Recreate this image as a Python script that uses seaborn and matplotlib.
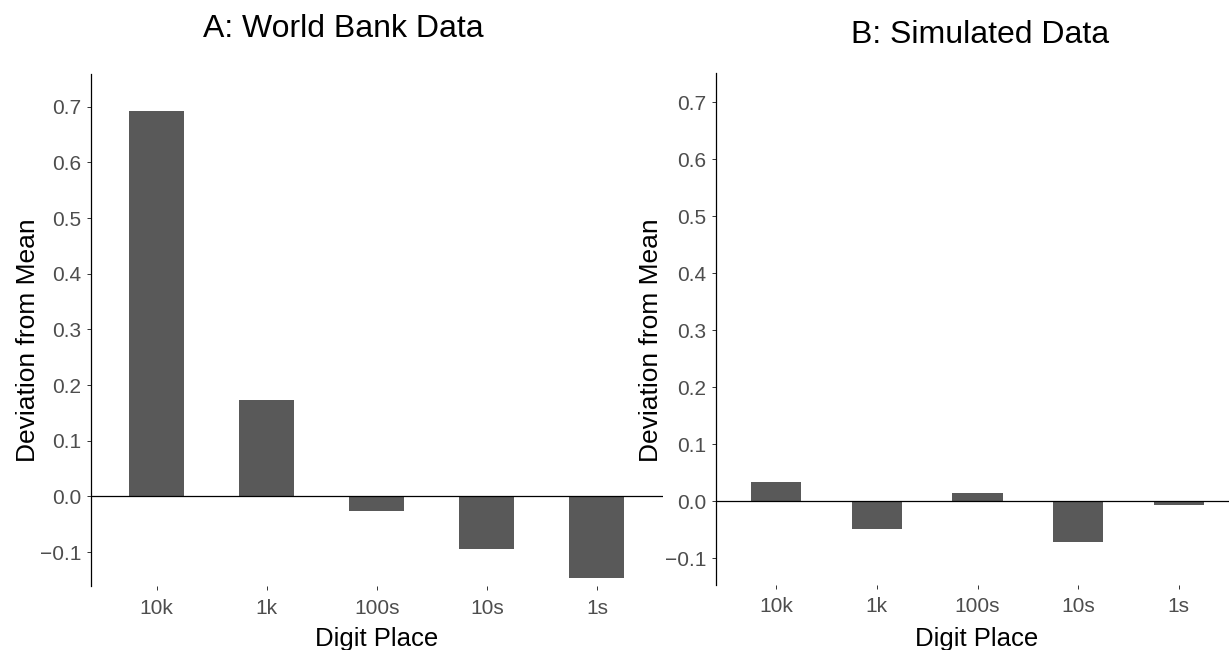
import matplotlib
matplotlib.use("Agg")
import matplotlib.pyplot as plt
import seaborn as sns
import pandas as pd
from matplotlib.ticker import FuncFormatter

# Digit places and deviation of each place from the mean
digit_places = ["10k", "1k", "100s", "10s", "1s"]
world_bank_dev = [0.692, 0.174, -0.027, -0.095, -0.147]
simulated_dev = [0.033, -0.048, 0.014, -0.071, -0.0065]

yticks = [-0.1, 0.0, 0.1, 0.2, 0.3, 0.4, 0.5, 0.6, 0.7]

sns.set_theme(style="white")
plt.rcParams["font.family"] = ["Liberation Sans", "DejaVu Sans"]

W, H = 1229, 650
fig = plt.figure(figsize=(W / 100, H / 100), dpi=100)
fig.patch.set_facecolor("white")

BAR = "#595959"
TICK_TXT = "#4D4D4D"


def fmt_tick(v, _pos):
    s = f"{abs(v):.1f}"
    return ("\u2212" + s) if v < -1e-9 else s


def px_axes(x0, y0, x1, y1):
    return fig.add_axes([x0 / W, 1 - y1 / H, (x1 - x0) / W, (y1 - y0) / H])


def draw_panel(ax, values, ylim):
    df = pd.DataFrame({"place": digit_places, "dev": values})
    sns.barplot(data=df, x="place", y="dev", order=digit_places, color=BAR,
                saturation=1, width=0.5, ax=ax, edgecolor="none", linewidth=0)
    ax.axhline(0, color="black", lw=0.9, zorder=3)
    ax.set_xlim(-0.6, 4.6)
    ax.set_ylim(*ylim)
    ax.set_yticks(yticks)
    ax.yaxis.set_major_formatter(FuncFormatter(fmt_tick))
    ax.set_xlabel("")
    ax.set_ylabel("")
    ax.set_facecolor("white")
    for s in ["top", "right", "bottom"]:
        ax.spines[s].set_visible(False)
    ax.spines["left"].set_color("black")
    ax.spines["left"].set_linewidth(0.9)
    ax.tick_params(axis="both", which="major", length=3, width=0.7,
                   color="#333333", labelsize=15, labelcolor=TICK_TXT,
                   left=True, bottom=True, pad=4)
    ax.tick_params(axis="x", pad=6)
    ax.grid(False)


ax1 = px_axes(90.7, 74, 663, 586)
draw_panel(ax1, world_bank_dev, (-0.161, 0.759))

ax2 = px_axes(716, 73, 1239, 585)
draw_panel(ax2, simulated_dev, (-0.147, 0.751))

# Titles and axis labels
fig.text(343 / W, 1 - 36.7 / H, "A: World Bank Data", fontsize=23,
         ha="center", va="baseline", color="black")
fig.text(980 / W, 1 - 43.3 / H, "B: Simulated Data", fontsize=23,
         ha="center", va="baseline", color="black")

fig.text(377 / W, 1 - 646 / H, "Digit Place", fontsize=18.5,
         ha="center", va="baseline", color="black")
fig.text(977 / W, 1 - 646 / H, "Digit Place", fontsize=18.5,
         ha="center", va="baseline", color="black")

fig.text(28 / W, 1 - 340 / H, "Deviation from Mean", fontsize=19,
         rotation=90, ha="center", va="center", color="black")
fig.text(651 / W, 1 - 340 / H, "Deviation from Mean", fontsize=19,
         rotation=90, ha="center", va="center", color="black")

fig.savefig("out.png", dpi=100, facecolor="white")
